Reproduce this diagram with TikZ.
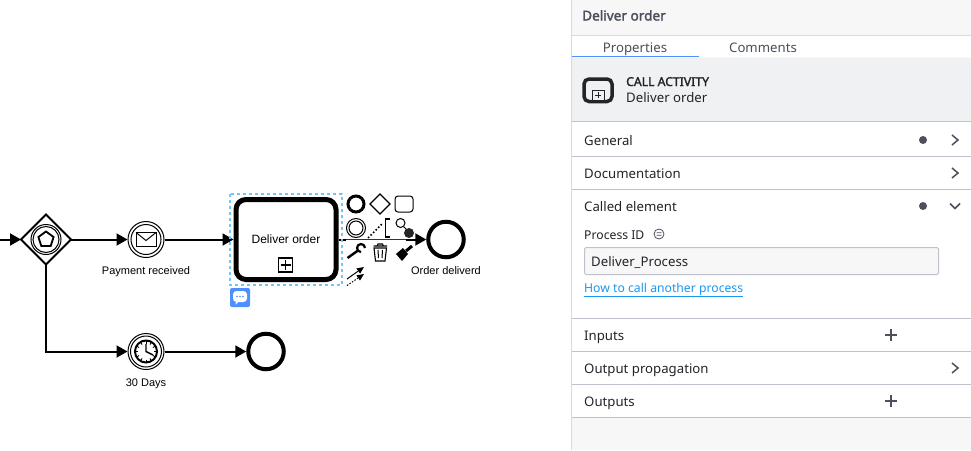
\documentclass[tikz,border=0pt]{standalone}
\usepackage{fontspec}
\setmainfont{Liberation Sans}
\newfontfamily\panelfont{Noto Sans}
\newfontfamily\panelbold[FakeBold=2]{Noto Sans}
\usetikzlibrary{arrows.meta,shapes.geometric}
\definecolor{paneBg}{HTML}{F7F7F8}
\definecolor{paneLine}{HTML}{D9D9DE}
\definecolor{groupLine}{HTML}{BFC1CC}
\definecolor{groupBg}{HTML}{F0F1F3}
\definecolor{inkDark}{HTML}{22242A}
\definecolor{inkGrey}{HTML}{4C4F5C}
\definecolor{linkBlue}{HTML}{1A98F0}
\definecolor{selectBlue}{HTML}{6EC6FF}
\definecolor{chatBlue}{HTML}{4D90FF}
\definecolor{tabBlue}{HTML}{4D90FF}
\tikzset{
    flow/.style={line width=2pt,-{Triangle[length=11pt,width=12pt]}},
    plainFlow/.style={line width=2pt},
    diagramText/.style={font=\fontsize{11}{12}\selectfont,inner sep=0pt},
    groupText/.style={font=\panelfont\fontsize{13.2}{15}\selectfont,text=inkDark,anchor=base west,inner sep=0pt},
    event/.style={circle,draw,line width=1pt,minimum size=36pt,inner sep=0pt,fill=white},
    endEvent/.style={circle,draw,line width=4pt,minimum size=35.5pt,inner sep=0pt,fill=white},
    padIcon/.style={line width=1.2pt,draw=black},
    chevron/.style={draw=inkGrey,line width=1.5pt},
    rowLine/.style={draw=groupLine,line width=1pt},
    plusMark/.style={draw=inkGrey,line width=1.5pt}
}
\begin{document}
\begin{tikzpicture}[x=1pt,y=-1pt]
    \useasboundingbox (0,0) rectangle (971,450);
    \fill[white] (0,0) rectangle (971,450);

    % Blocks
    \coordinate (in) at (0,239.5);
    \node [diamond,draw,line width=1.8pt,fill=white,minimum size=50pt,inner sep=0pt,outer sep=0pt] (gateway) at (46,239.5) {};
    \node [circle,draw,line width=1pt,minimum size=30pt,inner sep=0pt] (gatewayOuter) at (gateway) {};
    \node [circle,draw,line width=1pt,minimum size=26pt,inner sep=0pt] (gatewayInner) at (gateway) {};
    \node [regular polygon,regular polygon sides=5,draw,line width=1.8pt,minimum size=16pt,inner sep=0pt] (gatewayMark) at (gateway) {};
    \node [event] (payment) at (146,239.5) {};
    \node [circle,draw,line width=1pt,minimum size=30pt,inner sep=0pt] (paymentInner) at (payment) {};
    \node [draw,fill=white,rounded corners=10pt,minimum width=100pt,minimum height=80pt,inner sep=0pt,line width=5pt,font=\fontsize{12}{14}\selectfont] (deliver) at (286,239.5) {Deliver order};
    \node [draw,line width=1.2pt,minimum size=14pt,inner sep=0pt] (deliverMark) at (285.5,265) {};
    \node [endEvent] (endTop) at (446,239.5) {};
    \node [event] (timer) at (146,351.5) {};
    \node [circle,draw,line width=1pt,minimum size=31pt,inner sep=0pt] (timerInner) at (timer) {};
    \node [endEvent] (endBottom) at (266,351.5) {};
    \coordinate (corner) at (46,351.5);
    \coordinate (padLeft) at (346,239.5);
    \coordinate (padRight) at (406,239.5);

    % Labels
    \node [diagramText] (paymentLabel) at (146,271.5) {Payment received};
    \node [diagramText] (timerLabel) at (146,383.5) {30 Days};
    \node [diagramText] (endTopLabel) at (446,270.5) {Order deliverd};

    % Connections
    \draw [flow] (in) -- (gateway.west);
    \draw [flow] (gateway.east) -- (payment.west);
    \draw [flow] (payment.east) -- (deliver.west);
    \draw [plainFlow] (deliver.east) -- (padLeft);
    \draw [line width=0.9pt,black!80] (padLeft) -- (padRight);
    \draw [flow] (padRight) -- (endTop.west);
    \draw [flow] (gateway.south) -- (corner) -- (timer.west);
    \draw [flow] (timer.east) -- (endBottom.west);

    % Markers
    \draw [line width=1.4pt] (285.5,260) -- (285.5,270) (280.5,265) -- (290.5,265);
    \draw [line width=1pt,fill=white] (136,232.5) rectangle (156,246);
    \draw [line width=1pt] (136,232.5) -- (146,240.5) -- (156,232.5);
    \draw [line width=2pt] (146,351.5) circle (11pt);
    \foreach \a in {0,30,...,330}
        \draw [line width=0.9pt] (146,351.5) ++(\a:8pt) -- ++(\a:2.5pt);
    \draw [line width=1.4pt] (146,344) -- (146,351.5) -- (153,355);

    % Selection
    \draw [selectBlue,line width=2pt,dash pattern=on 3pt off 3pt] (230,193.5) rectangle (342,284.5);
    \fill [chatBlue,rounded corners=2pt] (230,288) rectangle (250,307);
    \fill [white,rounded corners=3.5pt] (233,291) rectangle (247,302);
    \fill [white] (236,300) -- (240,300) -- (235.5,305) -- cycle;
    \foreach \x in {237,240,243}
        \fill [chatBlue] (\x,296.5) circle (0.9pt);

    % Context pad
    \draw [line width=3pt] (356,204) circle (8pt);
    \draw [padIcon] (380,194) -- (390,204) -- (380,214) -- (370,204) -- cycle;
    \draw [line width=1pt,rounded corners=3pt] (395,196) rectangle (413,212);
    \draw [line width=1pt] (356,228) circle (9.5pt) (356,228) circle (7pt);
    \draw [line width=1.6pt,dash pattern=on 1.6pt off 2pt] (368,238) -- (383,223);
    \draw [line width=1.1pt] (390,219) -- (385.5,219) -- (385.5,237) -- (390,237);
    \draw [line width=1pt] (400.5,223) circle (4.5pt);
    \draw [line width=1pt] (403.5,226.5) -- (408,231);
    \fill [black!85] (409,233) circle (5pt);
    \draw [line width=2.4pt] (347.5,258) -- (358,250.5);
    \draw [line width=2.2pt] (365,248) arc (0:270:4pt);
    \draw [line width=1.1pt] (373.5,246) -- (387,246) (377,246) -- (378,244) -- (382.5,244) -- (383.5,246);
    \draw [line width=1.1pt] (374,248) -- (375.5,261) -- (385,261) -- (386.5,248) -- cycle;
    \draw [line width=1pt] (378,250) -- (378.5,258) (382.5,250) -- (382,258);
    \fill (396,254) -- (403,248) -- (408,254) -- (402,261) -- cycle;
    \draw [line width=3pt] (406,251) -- (412,246);
    \draw [line width=1pt,-{Triangle[length=7pt,width=6pt]}] (347,279) -- (364,267);
    \draw [line width=1pt,dash pattern=on 1.5pt off 1.5pt,-{Triangle[length=7pt,width=6pt]}] (347,285.5) -- (364,274);

    % Panel
    \fill [paneBg] (572,0) rectangle (971,450);
    \fill [white] (572,36) rectangle (971,57);
    \fill [groupBg] (572,58) rectangle (971,121);
    \fill [white] (572,122) rectangle (971,417);
    \draw [paneLine,line width=1pt] (571.5,0) -- (571.5,450);
    \draw [paneLine,line width=1pt] (572,35.5) -- (971,35.5);
    \draw [tabBlue,line width=1pt] (572,56.5) -- (699,56.5);
    \foreach \y in {121.5,156.5,189.5,318.5,351.5,384.5,417.5}
        \draw [rowLine] (572,\y) -- (971,\y);

    \node [groupText,font=\panelbold\fontsize{13.6}{15}\selectfont,text=inkGrey] (paneTitle) at (582,20.5) {Deliver order};
    \node [groupText,anchor=base,text=inkGrey] (tabProps) at (635,52) {Properties};
    \node [groupText,anchor=base,text=inkGrey] (tabComments) at (763,52) {Comments};
    \draw [inkDark,line width=3.5pt,rounded corners=5pt] (584,79) rectangle (612,101.5);
    \draw [draw=inkDark,fill=groupBg,line width=1pt] (592,90) rectangle (604,100);
    \draw [line width=1pt,inkDark] (598,92) -- (598,98) (595,95) -- (601,95);
    \node [groupText,font=\panelbold\fontsize{12.2}{15}\selectfont] (callType) at (626,86) {CALL ACTIVITY};
    \node [groupText] (callName) at (626,102) {Deliver order};

    \node [groupText] (rowGeneral) at (584,145) {General};
    \node [groupText] (rowDocs) at (584,178) {Documentation};
    \node [groupText] (rowCalled) at (584,211) {Called element};
    \node [groupText,font=\panelfont\fontsize{12.2}{15}\selectfont] (rowProcess) at (584,239) {Process ID};
    \draw [inkGrey,line width=0.8pt] (659,234) circle (5pt) (656.5,232.7) -- (661.5,232.7) (656.5,235.3) -- (661.5,235.3);
    \node [draw=groupLine,fill=paneBg,line width=1pt,rounded corners=1.5pt,minimum width=354pt,minimum height=27pt,inner sep=0pt] (processField) at (761.5,261) {};
    \node [groupText] (processValue) at (591,266) {Deliver\_Process};
    \node [groupText,font=\panelfont\fontsize{12.2}{15}\selectfont,text=linkBlue] (processLink) at (584,292) {\underline{How to call another process}};
    \node [groupText] (rowInputs) at (584,340) {Inputs};
    \node [groupText] (rowPropagation) at (584,373) {Output propagation};
    \node [groupText] (rowOutputs) at (584,406) {Outputs};

    % Row marks
    \foreach \y in {140,206}
        \fill [inkGrey] (923,\y) circle (4pt);
    \foreach \y in {140,173,368}
        \draw [chevron] (952,\y-5) -- (958,\y) -- (952,\y+5);
    \draw [chevron] (950,203.5) -- (955,208.5) -- (960,203.5);
    \foreach \y in {335,401}
        \draw [plusMark] (891,\y-6) -- (891,\y+6) (885,\y) -- (897,\y);
\end{tikzpicture}
\end{document}
